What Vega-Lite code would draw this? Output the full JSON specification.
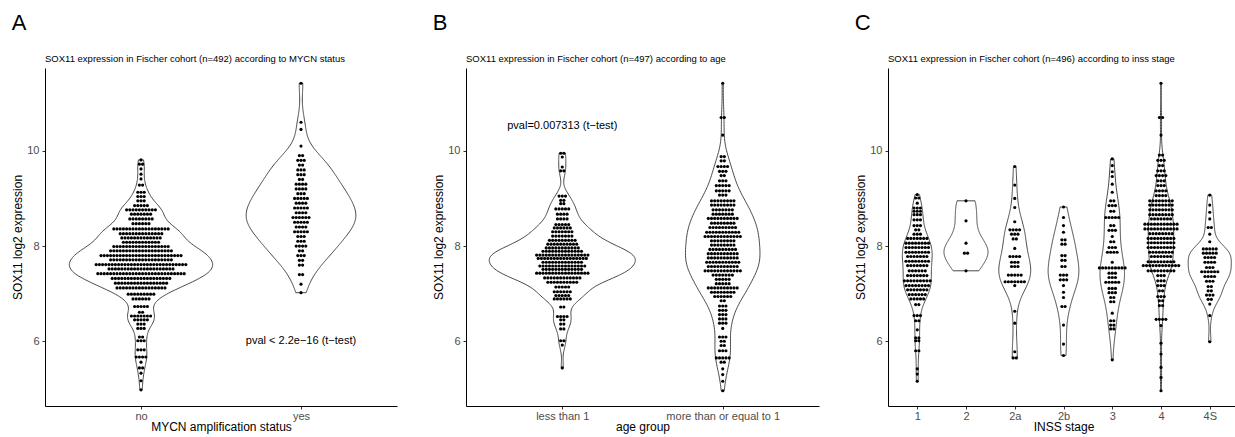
{
  "$schema": "https://vega.github.io/schema/vega-lite/v6.json",
  "background": "white",
  "padding": {"left": 11, "top": 11, "right": 0, "bottom": 5},
  "config": {
    "font": "Liberation Sans",
    "view": {"stroke": null},
    "concat": {"spacing": 35},
    "axis": {"grid": false, "domainColor": "#000000", "domainWidth": 1, "tickColor": "#333333", "tickSize": 3, "tickWidth": 1, "labelColor": "#4d4d4d", "labelFontSize": 11, "labelFont": "Liberation Sans", "titleFont": "Liberation Sans", "titleFontSize": 12, "titleFontWeight": "normal", "titleColor": "#000000", "labelPadding": 3},
    "axisX": {"titlePadding": 0, "labelPadding": 1},
    "axisY": {"titlePadding": 2},
    "title": {"font": "Liberation Sans", "fontWeight": "normal", "color": "#000000"}
  },
  "datasets": {
    "A": [
      {"g": 1, "y": [4.98,5.17,5.33,5.44,5.44,5.56,5.67,5.67,5.67,5.67,5.82,5.82,5.82,6.01,6.01,6.01,6.09,6.09,6.27,6.27,6.27,6.36,6.36,6.36,6.45,6.45,6.45,6.45,6.45,6.53,6.53,6.53,6.53,6.53,6.53,6.53,6.61,6.61,6.73,6.73,6.73,6.73,6.73,6.89,6.89,6.89,6.89,6.89,6.89,6.99,6.99,6.99,6.99,6.99,6.99,6.99,6.99,6.99,
        7.12,7.12,7.12,7.12,7.12,7.12,7.12,7.12,7.12,7.12,7.12,7.12,7.12,7.12,7.12,7.12,
        7.22,7.22,7.22,7.22,7.22,7.22,7.22,7.22,7.22,7.22,7.22,7.22,7.22,7.22,7.22,7.22,7.22,
        7.32,7.32,7.32,7.32,7.32,7.32,7.32,7.32,7.32,7.32,7.32,7.32,7.32,7.32,7.32,7.32,7.32,7.32,7.32,
        7.42,7.42,7.42,7.42,7.42,7.42,7.42,7.42,7.42,7.42,7.42,7.42,7.42,7.42,7.42,7.42,7.42,7.42,7.42,7.42,7.42,7.42,7.42,7.42,7.42,7.42,7.42,7.42,
        7.52,7.52,7.52,7.52,7.52,7.52,7.52,7.52,7.52,7.52,7.52,7.52,7.52,7.52,7.52,7.52,7.52,7.52,7.52,7.52,7.52,
        7.61,7.61,7.61,7.61,7.61,7.61,7.61,7.61,7.61,7.61,7.61,7.61,7.61,7.61,7.61,7.61,7.61,7.61,7.61,7.61,7.61,7.61,7.61,7.61,7.61,7.61,7.61,7.61,7.61,
        7.71,7.71,7.71,7.71,7.71,7.71,7.71,7.71,7.71,7.71,7.71,7.71,7.71,7.71,7.71,7.71,7.71,7.71,7.71,7.71,
        7.8,7.8,7.8,7.8,7.8,7.8,7.8,7.8,7.8,7.8,7.8,7.8,7.8,7.8,7.8,7.8,7.8,7.8,7.8,7.8,7.8,7.8,7.8,7.8,7.8,7.8,
        7.9,7.9,7.9,7.9,7.9,7.9,7.9,7.9,7.9,7.9,7.9,7.9,7.9,7.9,7.9,7.9,7.9,7.9,7.9,7.9,
        7.99,7.99,7.99,7.99,7.99,7.99,7.99,7.99,7.99,7.99,7.99,7.99,7.99,7.99,7.99,7.99,7.99,7.99,
        8.08,8.08,8.08,8.08,8.08,8.08,8.08,8.08,8.08,8.08,8.08,8.08,
        8.17,8.17,8.17,8.17,8.17,8.17,8.17,8.17,8.17,8.17,8.17,8.17,8.17,
        8.26,8.26,8.26,8.26,8.26,8.26,8.26,8.26,8.26,8.26,8.26,8.26,8.26,8.26,
        8.36,8.36,8.36,8.36,8.36,8.36,8.36,8.36,8.36,8.36,8.36,8.36,8.36,8.36,8.36,8.36,8.36,8.36,
        8.47,8.47,8.47,8.47,8.47,8.47,8.57,8.57,8.57,8.57,8.57,8.57,8.57,8.57,8.67,8.67,8.67,8.67,8.67,8.67,8.67,
        8.76,8.76,8.76,8.76,8.76,8.76,8.76,8.76,8.76,8.76,8.85,8.85,8.85,8.85,8.85,8.95,8.95,8.95,9.04,9.04,9.04,9.13,9.13,9.13,9.28,9.28,9.41,9.51,9.62,9.72,9.72,9.81]},
      {"g": 2, "y": [7.02,7.2,7.4,7.4,7.6,7.6,7.7,7.7,7.8,7.8,7.8,7.9,7.9,8.0,8.0,8.0,8.0,8.1,8.1,8.1,8.2,8.2,8.2,8.3,8.3,8.3,8.3,8.3,8.4,8.4,8.4,8.4,8.5,8.5,8.5,8.5,8.5,8.6,8.6,8.6,8.6,8.6,8.6,8.7,8.7,8.7,8.7,8.8,8.8,8.8,8.8,8.8,8.9,8.9,8.9,8.9,9.0,9.0,9.0,9.0,9.0,9.1,9.1,9.1,9.2,9.2,9.2,9.2,9.3,9.3,9.3,9.3,9.4,9.4,9.5,9.5,9.5,9.6,9.6,9.6,9.7,9.7,9.8,9.8,9.8,9.9,9.9,10.1,10.45,10.6,11.42]}
    ],
    "B": [
      {"g": 1, "y": [5.44,5.92,6.01,6.01,6.26,6.26,6.36,6.36,6.45,6.45,6.52,6.52,6.52,6.52,6.72,6.72,6.89,6.89,6.89,6.89,6.89,6.89,6.96,6.96,6.96,6.96,6.96,7.04,7.04,7.04,7.04,7.04,7.04,7.14,7.14,7.14,7.14,7.14,
        7.24,7.24,7.24,7.24,7.24,7.24,7.24,7.24,7.24,7.24,
        7.33,7.33,7.33,7.33,7.33,7.33,7.33,7.33,7.33,7.33,7.33,7.33,
        7.43,7.43,7.43,7.43,7.43,7.43,7.43,7.43,7.43,7.43,7.43,7.43,7.43,7.43,7.43,7.43,7.43,
        7.51,7.51,7.51,7.51,7.51,7.51,7.51,7.51,7.51,7.51,7.51,7.51,7.51,
        7.58,7.58,7.58,7.58,7.58,7.58,7.58,7.58,7.58,7.58,7.58,7.58,7.58,7.58,7.58,
        7.66,7.66,7.66,7.66,7.66,7.66,7.66,7.66,7.66,7.66,7.66,7.66,7.66,
        7.74,7.74,7.74,7.74,7.74,7.74,7.74,7.74,7.74,7.74,7.74,7.74,7.74,7.74,7.74,7.74,
        7.81,7.81,7.81,7.81,7.81,7.81,7.81,7.81,7.81,7.81,7.81,7.81,7.81,7.81,7.81,7.81,7.81,
        7.89,7.89,7.89,7.89,7.89,7.89,7.89,7.89,7.89,7.89,7.89,7.89,7.89,
        7.96,7.96,7.96,7.96,7.96,7.96,7.96,7.96,7.96,7.96,7.96,
        8.04,8.04,8.04,8.04,8.04,8.04,8.04,8.04,8.04,8.04,
        8.12,8.12,8.12,8.12,8.12,8.12,8.12,8.12,8.12,
        8.21,8.21,8.21,8.21,8.21,8.21,8.21,8.3,8.3,8.3,8.3,8.3,8.3,8.3,8.38,8.38,8.38,8.38,8.38,8.38,8.45,8.45,8.45,8.45,8.45,
        8.57,8.57,8.57,8.57,8.67,8.67,8.67,8.67,8.78,8.78,8.78,8.78,8.78,8.89,8.89,8.96,8.96,9.05,9.05,9.05,9.58,9.58,9.66,9.87,9.95,9.95]},
      {"g": 2, "y": [4.96,5.16,5.3,5.42,5.56,5.56,5.65,5.65,5.65,5.65,5.65,5.8,5.8,5.8,5.91,5.91,6.0,6.0,6.09,6.09,6.09,6.27,6.38,6.38,6.38,6.47,6.47,6.47,6.56,6.56,6.56,6.65,6.65,6.65,6.74,6.74,6.74,6.85,6.85,
        6.94,6.94,6.94,6.94,6.94,6.94,7.03,7.03,7.03,7.03,7.03,7.03,7.03,7.03,
        7.12,7.12,7.12,7.12,7.12,7.12,7.12,7.12,7.12,7.12,7.21,7.21,7.21,7.21,7.21,7.3,7.3,7.3,7.3,7.3,7.39,7.39,7.39,7.39,7.39,7.39,7.39,
        7.48,7.48,7.48,7.48,7.48,7.48,7.48,7.48,7.48,7.48,7.48,7.48,
        7.57,7.57,7.57,7.57,7.57,7.57,7.57,7.57,7.57,7.57,
        7.66,7.66,7.66,7.66,7.66,7.66,7.66,7.66,7.66,7.66,7.66,
        7.75,7.75,7.75,7.75,7.75,7.75,7.75,7.75,7.75,7.75,
        7.84,7.84,7.84,7.84,7.84,7.84,7.84,7.84,7.84,7.84,
        7.93,7.93,7.93,7.93,7.93,7.93,7.93,7.93,7.93,
        8.02,8.02,8.02,8.02,8.02,8.02,8.02,8.02,8.11,8.11,8.11,8.11,8.11,8.11,8.11,8.11,
        8.2,8.2,8.2,8.2,8.2,8.2,8.2,8.2,8.2,8.2,8.2,8.2,
        8.29,8.29,8.29,8.29,8.29,8.29,8.29,8.29,8.29,8.29,8.29,
        8.39,8.39,8.39,8.39,8.39,8.39,8.39,8.39,8.39,8.48,8.48,8.48,8.48,8.48,8.48,8.48,8.48,
        8.58,8.58,8.58,8.58,8.58,8.58,8.58,8.58,8.58,8.58,8.67,8.67,8.67,8.67,8.67,8.67,8.67,8.76,8.76,8.76,8.76,8.76,8.76,8.76,
        8.86,8.86,8.86,8.86,8.86,8.86,8.86,8.86,8.95,8.95,8.95,8.95,8.95,8.95,8.95,8.95,
        9.07,9.07,9.07,9.16,9.16,9.16,9.16,9.16,9.27,9.27,9.27,9.27,9.27,9.37,9.37,9.37,9.48,9.48,9.57,9.57,9.57,9.67,9.67,9.67,9.67,9.79,9.79,9.88,9.88,10.33,10.7,10.7,11.42]}
    ],
    "C": [
      {"g": 1, "y": [5.16,5.31,5.42,5.8,5.8,6.01,6.01,6.07,6.07,6.24,6.43,6.43,6.54,6.54,6.54,6.77,6.77,6.89,6.89,6.89,6.89,6.89,6.98,6.98,6.98,6.98,6.98,6.98,7.08,7.08,7.08,7.08,7.08,7.08,7.08,7.17,7.17,7.17,7.17,7.17,7.17,7.17,7.17,7.27,7.27,7.27,7.27,7.27,7.27,7.27,7.27,7.27,7.38,7.38,7.38,7.38,7.38,7.38,7.38,7.48,7.48,7.48,7.48,7.48,7.48,7.59,7.59,7.59,7.59,7.59,7.59,7.59,7.68,7.68,7.68,7.68,7.68,7.68,7.68,7.68,7.78,7.78,7.78,7.78,7.78,7.78,7.78,7.87,7.87,7.87,7.87,7.87,7.87,7.87,7.87,7.97,7.97,7.97,7.97,7.97,7.97,7.97,7.97,8.06,8.06,8.06,8.06,8.06,8.06,8.06,8.06,8.16,8.16,8.16,8.16,8.16,8.16,8.16,8.25,8.25,8.25,8.34,8.34,8.43,8.43,8.43,8.55,8.55,8.55,8.66,8.66,8.66,8.73,8.73,8.73,8.8,8.8,8.8,8.9,9.01,9.01,9.08]},
      {"g": 2, "y": [7.48,7.85,7.85,8.06,8.53,8.95]},
      {"g": 3, "y": [5.65,5.65,5.78,6.38,6.63,7.17,7.25,7.25,7.25,7.25,7.25,7.25,7.25,7.39,7.39,7.39,7.39,7.39,7.57,7.57,7.57,7.66,7.66,7.66,7.78,7.78,7.78,7.78,7.95,8.15,8.15,8.25,8.25,8.25,8.34,8.34,8.34,8.34,8.51,8.81,9.0,9.28,9.67]},
      {"g": 4, "y": [5.7,5.94,6.34,6.73,6.73,6.92,7.03,7.17,7.29,7.29,7.29,7.39,7.39,7.39,7.57,7.57,7.7,7.7,7.8,7.8,8.04,8.04,8.13,8.13,8.29,8.43,8.6,8.82]},
      {"g": 5, "y": [5.61,6.26,6.26,6.34,6.34,6.43,6.43,6.59,6.83,6.83,6.92,6.92,7.02,7.02,7.02,7.11,7.11,7.11,7.24,7.24,7.24,7.24,7.24,7.34,7.34,7.34,7.43,7.43,7.43,7.54,7.54,7.54,7.54,7.54,7.54,7.54,7.54,7.54,7.66,7.87,7.87,7.87,7.87,7.97,7.97,7.97,8.09,8.09,8.2,8.33,8.33,8.33,8.43,8.43,8.6,8.6,8.6,8.6,8.6,8.73,8.73,8.85,8.85,8.85,8.95,8.95,9.13,9.3,9.46,9.56,9.69,9.83]},
      {"g": 6, "y": [4.96,5.24,5.45,5.73,5.96,6.33,6.46,6.46,6.46,6.46,6.75,6.75,6.85,6.85,6.94,6.94,6.94,7.06,7.06,7.17,7.17,7.17,7.27,7.27,7.27,7.38,7.38,7.38,
        7.48,7.48,7.48,7.48,7.48,7.48,7.48,7.48,7.48,7.59,7.59,7.59,7.59,7.59,7.59,7.59,7.59,7.59,7.59,7.59,7.59,7.67,7.67,7.67,7.67,7.67,7.67,7.67,7.67,7.67,
        7.78,7.78,7.78,7.78,7.78,7.78,7.78,7.87,7.87,7.87,7.87,7.87,7.87,7.87,7.87,7.97,7.97,7.97,7.97,7.97,7.97,7.97,7.97,7.97,8.07,8.07,8.07,8.07,8.07,8.07,8.07,8.07,8.07,
        8.16,8.16,8.16,8.16,8.16,8.16,8.16,8.16,8.16,8.26,8.26,8.26,8.26,8.26,8.26,8.26,8.26,8.36,8.36,8.36,8.36,8.36,8.36,8.36,8.36,8.36,8.36,8.36,8.46,8.46,8.46,8.46,8.46,8.46,8.46,8.46,8.46,8.46,8.46,
        8.57,8.57,8.57,8.57,8.57,8.57,8.57,8.66,8.66,8.66,8.66,8.66,8.66,8.66,8.66,8.76,8.76,8.76,8.76,8.76,8.76,8.76,8.76,8.86,8.86,8.86,8.86,8.86,8.86,8.86,8.86,8.95,8.95,8.95,8.95,8.95,8.95,8.95,8.95,
        9.06,9.06,9.06,9.06,9.16,9.16,9.16,9.16,9.27,9.27,9.27,9.37,9.37,9.37,9.48,9.48,9.48,9.48,9.58,9.58,9.58,9.69,9.69,9.8,9.8,9.8,9.91,9.91,10.33,10.7,10.7,11.42]},
      {"g": 7, "y": [5.99,6.54,6.78,6.88,6.88,6.97,6.97,6.97,7.06,7.06,7.15,7.15,7.26,7.26,7.26,7.36,7.36,7.36,7.36,7.46,7.46,7.46,7.46,7.46,7.46,7.55,7.55,7.55,7.66,7.66,7.66,7.66,7.76,7.76,7.76,7.76,7.85,7.85,7.85,7.85,7.85,7.94,7.94,7.94,7.94,7.94,8.09,8.25,8.39,8.39,8.57,8.71,8.86,9.07]}
    ]
  },
  "hconcat": [
    {
      "title": {"text": "A", "fontSize": 22, "anchor": "start", "frame": "bounds", "offset": 19},
      "vconcat": [{
        "title": {"text": "SOX11 expression in Fischer cohort (n=492) according to MYCN status", "fontSize": 9.5, "anchor": "start", "frame": "group", "offset": 5},
        "width": 352, "height": 338,
        "layer": [
          {
            "data": {"name": "A"},
            "encoding": {
              "y": {"field": "v", "type": "quantitative", "scale": {"domain": [4.64, 11.74], "nice": false, "zero": false}, "axis": {"values": [6, 8, 10], "title": "SOX11 log2 expression"}},
              "x": {"field": "lo", "type": "quantitative", "scale": {"domain": [0.4, 2.6], "nice": false, "zero": false}, "axis": {"values": [1, 2], "labelExpr": "datum.value == 1 ? 'no' : 'yes'", "title": "MYCN amplification status"}},
              "x2": {"field": "hi"}
            },
            "layer": [
              {
                "transform": [
                  {"flatten": ["y"]},
                  {"filter": "datum.g == 1"},
                  {"density": "y", "groupby": ["g"], "bandwidth": 0.156, "steps": 200, "as": ["v", "d"]},
                  {"calculate": "datum.g - 0.685 * datum.d", "as": "lo"},
                  {"calculate": "datum.g + 0.685 * datum.d", "as": "hi"}
                ],
                "mark": {"type": "area", "orient": "horizontal", "fill": "white", "stroke": "#333333", "strokeWidth": 0.9}
              },
              {
                "transform": [
                  {"flatten": ["y"]},
                  {"filter": "datum.g == 2"},
                  {"density": "y", "groupby": ["g"], "bandwidth": 0.274, "steps": 200, "as": ["v", "d"]},
                  {"calculate": "datum.g - 0.685 * datum.d", "as": "lo"},
                  {"calculate": "datum.g + 0.685 * datum.d", "as": "hi"}
                ],
                "mark": {"type": "area", "orient": "horizontal", "fill": "white", "stroke": "#333333", "strokeWidth": 0.9}
              }
            ]
          },
          {
            "data": {"name": "A"},
            "transform": [
              {"flatten": ["y"]},
              {"window": [{"op": "row_number", "as": "r"}], "groupby": ["g", "y"]},
              {"joinaggregate": [{"op": "count", "as": "n"}], "groupby": ["g", "y"]},
              {"calculate": "datum.g + (datum.r - (datum.n + 1) / 2) * 0.02", "as": "xp"}
            ],
            "mark": {"type": "circle", "size": 10, "color": "#000000", "opacity": 1},
            "encoding": {
              "x": {"field": "xp", "type": "quantitative"},
              "y": {"field": "y", "type": "quantitative"}
            }
          },
          {
            "data": {"values": [{"g": 2, "y": 6, "t": "pval < 2.2e−16 (t−test)"}]},
            "mark": {"type": "text", "fontSize": 11, "color": "#000000"},
            "encoding": {
              "x": {"field": "g", "type": "quantitative"},
              "y": {"field": "y", "type": "quantitative"},
              "text": {"field": "t"}
            }
          }
        ]
      }]
    },
    {
      "title": {"text": "B", "fontSize": 22, "anchor": "start", "frame": "bounds", "offset": 19},
      "vconcat": [{
        "title": {"text": "SOX11 expression in Fischer cohort (n=497) according to age", "fontSize": 9.5, "anchor": "start", "frame": "group", "offset": 5},
        "width": 353, "height": 338,
        "layer": [
          {
            "data": {"name": "B"},
            "encoding": {
              "y": {"field": "v", "type": "quantitative", "scale": {"domain": [4.64, 11.74], "nice": false, "zero": false}, "axis": {"values": [6, 8, 10], "title": "SOX11 log2 expression"}},
              "x": {"field": "lo", "type": "quantitative", "scale": {"domain": [0.4, 2.6], "nice": false, "zero": false}, "axis": {"values": [1, 2], "labelExpr": "datum.value == 1 ? 'less than 1' : 'more than or equal to 1'", "title": "age group"}},
              "x2": {"field": "hi"}
            },
            "layer": [
              {
                "transform": [
                  {"flatten": ["y"]},
                  {"filter": "datum.g == 1"},
                  {"density": "y", "groupby": ["g"], "bandwidth": 0.159, "steps": 200, "as": ["v", "d"]},
                  {"calculate": "datum.g - 0.595 * datum.d", "as": "lo"},
                  {"calculate": "datum.g + 0.595 * datum.d", "as": "hi"}
                ],
                "mark": {"type": "area", "orient": "horizontal", "fill": "white", "stroke": "#333333", "strokeWidth": 0.9}
              },
              {
                "transform": [
                  {"flatten": ["y"]},
                  {"filter": "datum.g == 2"},
                  {"density": "y", "groupby": ["g"], "bandwidth": 0.285, "steps": 200, "as": ["v", "d"]},
                  {"calculate": "datum.g - 0.595 * datum.d", "as": "lo"},
                  {"calculate": "datum.g + 0.595 * datum.d", "as": "hi"}
                ],
                "mark": {"type": "area", "orient": "horizontal", "fill": "white", "stroke": "#333333", "strokeWidth": 0.9}
              }
            ]
          },
          {
            "data": {"name": "B"},
            "transform": [
              {"flatten": ["y"]},
              {"window": [{"op": "row_number", "as": "r"}], "groupby": ["g", "y"]},
              {"joinaggregate": [{"op": "count", "as": "n"}], "groupby": ["g", "y"]},
              {"calculate": "datum.g + (datum.r - (datum.n + 1) / 2) * 0.02", "as": "xp"}
            ],
            "mark": {"type": "circle", "size": 10, "color": "#000000", "opacity": 1},
            "encoding": {
              "x": {"field": "xp", "type": "quantitative"},
              "y": {"field": "y", "type": "quantitative"}
            }
          },
          {
            "data": {"values": [{"g": 1, "y": 10.52, "t": "pval=0.007313 (t−test)"}]},
            "mark": {"type": "text", "fontSize": 11, "color": "#000000"},
            "encoding": {
              "x": {"field": "g", "type": "quantitative"},
              "y": {"field": "y", "type": "quantitative"},
              "text": {"field": "t"}
            }
          }
        ]
      }]
    },
    {
      "title": {"text": "C", "fontSize": 22, "anchor": "start", "frame": "bounds", "offset": 19},
      "vconcat": [{
        "title": {"text": "SOX11 expression in Fischer cohort (n=496) according to inss stage", "fontSize": 9.5, "anchor": "start", "frame": "group", "offset": 5},
        "width": 351, "height": 338,
        "layer": [
          {
            "data": {"name": "C"},
            "encoding": {
              "y": {"field": "v", "type": "quantitative", "scale": {"domain": [4.64, 11.74], "nice": false, "zero": false}, "axis": {"values": [6, 8, 10], "title": "SOX11 log2 expression"}},
              "x": {"field": "lo", "type": "quantitative", "scale": {"domain": [0.4, 7.6], "nice": false, "zero": false}, "axis": {"values": [1, 2, 3, 4, 5, 6, 7], "labelExpr": "['', '1', '2', '2a', '2b', '3', '4', '4S'][datum.value]", "title": "INSS stage"}},
              "x2": {"field": "hi"}
            },
            "layer": [
              {
                "transform": [
                  {"flatten": ["y"]}, {"filter": "datum.g == 1"},
                  {"density": "y", "groupby": ["g"], "bandwidth": 0.224, "steps": 200, "as": ["v", "d"]},
                  {"calculate": "datum.g - 0.57 * datum.d", "as": "lo"}, {"calculate": "datum.g + 0.57 * datum.d", "as": "hi"}
                ],
                "mark": {"type": "area", "orient": "horizontal", "fill": "white", "stroke": "#333333", "strokeWidth": 0.9}
              },
              {
                "transform": [
                  {"flatten": ["y"]}, {"filter": "datum.g == 2"},
                  {"density": "y", "groupby": ["g"], "bandwidth": 0.264, "steps": 200, "as": ["v", "d"]},
                  {"calculate": "datum.g - 0.57 * datum.d", "as": "lo"}, {"calculate": "datum.g + 0.57 * datum.d", "as": "hi"}
                ],
                "mark": {"type": "area", "orient": "horizontal", "fill": "white", "stroke": "#333333", "strokeWidth": 0.9}
              },
              {
                "transform": [
                  {"flatten": ["y"]}, {"filter": "datum.g == 3"},
                  {"density": "y", "groupby": ["g"], "bandwidth": 0.318, "steps": 200, "as": ["v", "d"]},
                  {"calculate": "datum.g - 0.57 * datum.d", "as": "lo"}, {"calculate": "datum.g + 0.57 * datum.d", "as": "hi"}
                ],
                "mark": {"type": "area", "orient": "horizontal", "fill": "white", "stroke": "#333333", "strokeWidth": 0.9}
              },
              {
                "transform": [
                  {"flatten": ["y"]}, {"filter": "datum.g == 4"},
                  {"density": "y", "groupby": ["g"], "bandwidth": 0.30, "steps": 200, "as": ["v", "d"]},
                  {"calculate": "datum.g - 0.57 * datum.d", "as": "lo"}, {"calculate": "datum.g + 0.57 * datum.d", "as": "hi"}
                ],
                "mark": {"type": "area", "orient": "horizontal", "fill": "white", "stroke": "#333333", "strokeWidth": 0.9}
              },
              {
                "transform": [
                  {"flatten": ["y"]}, {"filter": "datum.g == 5"},
                  {"density": "y", "groupby": ["g"], "bandwidth": 0.344, "steps": 200, "as": ["v", "d"]},
                  {"calculate": "datum.g - 0.57 * datum.d", "as": "lo"}, {"calculate": "datum.g + 0.57 * datum.d", "as": "hi"}
                ],
                "mark": {"type": "area", "orient": "horizontal", "fill": "white", "stroke": "#333333", "strokeWidth": 0.9}
              },
              {
                "transform": [
                  {"flatten": ["y"]}, {"filter": "datum.g == 6"},
                  {"density": "y", "groupby": ["g"], "bandwidth": 0.23, "steps": 200, "as": ["v", "d"]},
                  {"calculate": "datum.g - 0.57 * datum.d", "as": "lo"}, {"calculate": "datum.g + 0.57 * datum.d", "as": "hi"}
                ],
                "mark": {"type": "area", "orient": "horizontal", "fill": "white", "stroke": "#333333", "strokeWidth": 0.9}
              },
              {
                "transform": [
                  {"flatten": ["y"]}, {"filter": "datum.g == 7"},
                  {"density": "y", "groupby": ["g"], "bandwidth": 0.178, "steps": 200, "as": ["v", "d"]},
                  {"calculate": "datum.g - 0.57 * datum.d", "as": "lo"}, {"calculate": "datum.g + 0.57 * datum.d", "as": "hi"}
                ],
                "mark": {"type": "area", "orient": "horizontal", "fill": "white", "stroke": "#333333", "strokeWidth": 0.9}
              }
            ]
          },
          {
            "data": {"name": "C"},
            "transform": [
              {"flatten": ["y"]},
              {"window": [{"op": "row_number", "as": "r"}], "groupby": ["g", "y"]},
              {"joinaggregate": [{"op": "count", "as": "n"}], "groupby": ["g", "y"]},
              {"calculate": "datum.g + (datum.r - (datum.n + 1) / 2) * 0.066", "as": "xp"}
            ],
            "mark": {"type": "circle", "size": 10, "color": "#000000", "opacity": 1},
            "encoding": {
              "x": {"field": "xp", "type": "quantitative"},
              "y": {"field": "y", "type": "quantitative"}
            }
          }
        ]
      }]
    }
  ]
}
